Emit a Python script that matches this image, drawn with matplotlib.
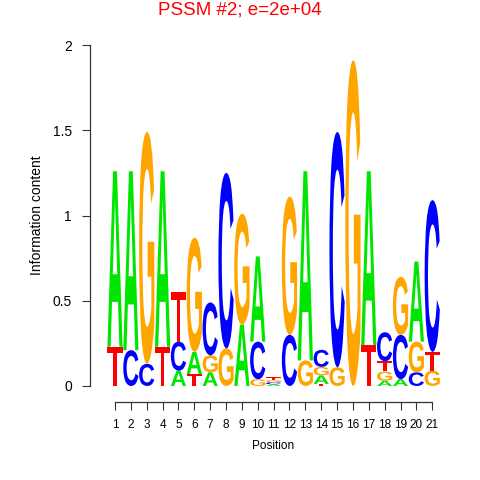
import numpy as np
import matplotlib
matplotlib.use("Agg")
from matplotlib import pyplot as plt
from matplotlib.textpath import TextPath
from matplotlib.font_manager import FontProperties
from matplotlib.patches import PathPatch
from matplotlib.transforms import Affine2D

# letter heights (bits) per position
positions = list(range(1, 22))
A = [1.03, 1.05, 0.0, 1.03, 0.09, 0.13, 0.08, 0.0, 0.36, 0.50, 0.010,
     0.0, 1.11, 0.05, 0.0, 0.0, 1.02, 0.03, 0.04, 0.47, 0.0]
C = [0.0, 0.21, 0.13, 0.0, 0.17, 0.0, 0.31, 1.03, 0.0, 0.22, 0.012,
     0.30, 0.0, 0.10, 1.38, 0.0, 0.0, 0.17, 0.26, 0.08, 0.89]
G = [0.0, 0.0, 1.36, 0.0, 0.0, 0.67, 0.10, 0.22, 0.65, 0.04, 0.013,
     0.81, 0.15, 0.05, 0.11, 1.91, 0.0, 0.055, 0.34, 0.18, 0.09]
T = [0.23, 0.0, 0.0, 0.23, 0.29, 0.07, 0.0, 0.0, 0.0, 0.0, 0.015,
     0.0, 0.0, 0.012, 0.0, 0.0, 0.24, 0.06, 0.0, 0.0, 0.11]

colors = {"A": "#00e600", "C": "#0000ff", "G": "#ffa500", "T": "#ff0000"}
fp = FontProperties(family="Liberation Sans", weight="bold")


def draw_letter(ax, letter, x, y0, h, w=0.96):
    tp = TextPath((0, 0), letter, size=1, prop=fp)
    bb = tp.get_extents()
    tr = Affine2D().translate(-bb.x0, -bb.y0) \
        .scale(w / bb.width, h / bb.height) \
        .translate(x - w / 2, y0)
    path = tr.transform_path(tp)
    ax.add_patch(PathPatch(path, facecolor=colors[letter], edgecolor="none"))


fig = plt.figure(figsize=(4.8, 4.8), dpi=100)
ax = fig.add_axes([90 / 480, 78 / 480, 360 / 480, 367 / 480])

for i, p in enumerate(positions):
    col = {"A": A[i], "C": C[i], "G": G[i], "T": T[i]}
    y = 0.0
    for letter, h in sorted(col.items(), key=lambda kv: kv[1]):
        if h <= 0:
            continue
        draw_letter(ax, letter, p, y, h)
        y += h

ax.set_xlim(-0.576, 22.12)
ax.set_ylim(-0.094, 2.059)
for s in ["top", "right"]:
    ax.spines[s].set_visible(False)
ax.spines["left"].set_bounds(0, 2)
ax.spines["bottom"].set_bounds(1, 21)
for s in ["left", "bottom"]:
    ax.spines[s].set_color("#333333")
    ax.spines[s].set_linewidth(0.9)

ax.set_yticks([0, 0.5, 1, 1.5, 2])
ax.set_yticklabels(["0", "0.5", "1", "1.5", "2"])
ax.set_xticks(positions)
ax.set_xticklabels([str(p) for p in positions])
ax.tick_params(axis="y", length=6, pad=7, labelsize=10, color="#333333")
ax.tick_params(axis="x", length=6, pad=6, labelsize=8.5, color="#333333")
for lab in ax.get_xticklabels() + ax.get_yticklabels():
    lab.set_family("Liberation Sans")

fig.text(273 / 480, 1 - 446 / 480, "Position", ha="center", va="center",
         fontsize=8.5, family="Liberation Sans")
fig.text(37 / 480, 1 - 215 / 480, "Information content", ha="center",
         va="center", rotation=90, fontsize=10, family="Liberation Sans")
fig.text(0.5, 1 - 10 / 480, "PSSM #2; e=2e+04", ha="center", va="center",
         fontsize=13.5, color="#ff0000", family="Liberation Sans")

fig.savefig("out.png", dpi=100)
